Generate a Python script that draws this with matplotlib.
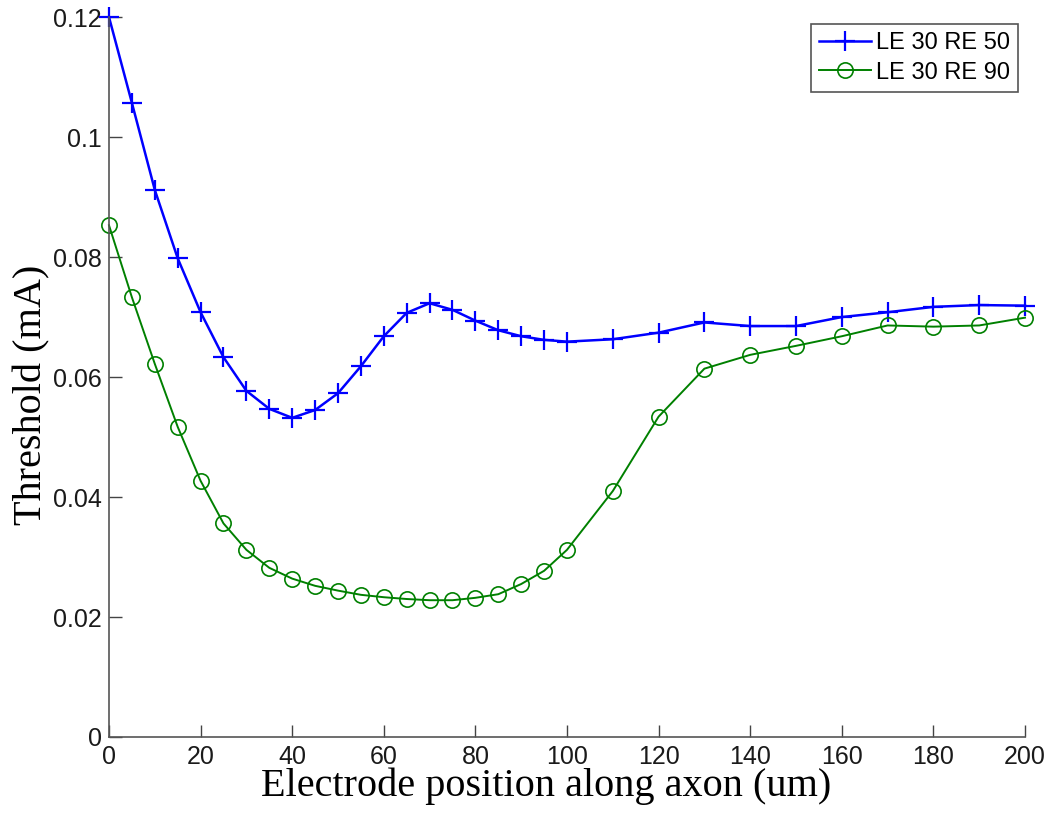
import numpy as np
import matplotlib
matplotlib.use("Agg")
import matplotlib.pyplot as plt

# electrode positions (um)
pos = [0, 5, 10, 15, 20, 25, 30, 35, 40, 45, 50, 55, 60, 65, 70, 75, 80, 85, 90, 95, 100,
       110, 120, 130, 140, 150, 160, 170, 180, 190, 200]

# thresholds (mA)
re50 = [0.1200, 0.1057, 0.0912, 0.0798, 0.0708, 0.0633, 0.0577, 0.0547, 0.0532, 0.0545, 0.0573,
        0.0618, 0.0668, 0.0707, 0.0723, 0.0712, 0.0694, 0.0678, 0.0668, 0.0662, 0.0659,
        0.0663, 0.0674, 0.0691, 0.0685, 0.0685, 0.0700, 0.0708, 0.0717, 0.0720, 0.0719]
re90 = [0.0853, 0.0733, 0.0622, 0.0517, 0.0427, 0.0356, 0.0312, 0.0282, 0.0264, 0.0252, 0.0244,
        0.0237, 0.0233, 0.0230, 0.0228, 0.0228, 0.0232, 0.0238, 0.0255, 0.0277, 0.0312,
        0.0410, 0.0534, 0.0614, 0.0637, 0.0652, 0.0668, 0.0686, 0.0684, 0.0686, 0.0699]

xticks = list(range(0, 201, 20))
yticks = [0, 0.02, 0.04, 0.06, 0.08, 0.1, 0.12]
ytick_labels = ['0', '0.02', '0.04', '0.06', '0.08', '0.1', '0.12']

plt.rcParams['font.family'] = ['Liberation Sans', 'DejaVu Sans']

fig = plt.figure(figsize=(10.5, 8.14), dpi=100)
ax = fig.add_axes([0.1038, 0.0946, 0.8724, 0.8844])

ax.plot(pos, re50, color='#0000ff', lw=1.8, marker='+', ms=14, mew=1.6,
        label='LE 30 RE 50', clip_on=False)
ax.plot(pos, re90, color='#008000', lw=1.4, marker='o', ms=11, mew=1.2,
        mfc='none', label='LE 30 RE 90', clip_on=False)

ax.set_xlim(0, 200)
ax.set_ylim(0, 0.12)
ax.set_xticks(xticks)
ax.set_yticks(yticks)
ax.set_yticklabels(ytick_labels)
ax.tick_params(direction='in', length=9, width=1, colors='#444444',
               labelcolor='#1a1a1a', labelsize=18)
ax.tick_params(axis='x', pad=6)
ax.tick_params(axis='y', pad=5)
for s in ['top', 'right']:
    ax.spines[s].set_visible(False)
for s in ['left', 'bottom']:
    ax.spines[s].set_color('#555555')
    ax.spines[s].set_linewidth(1.2)

ax.set_xlabel('Electrode position along axon (um)', family='Liberation Serif',
              fontsize=29)
ax.xaxis.set_label_coords(0.477, -0.043)
ax.set_ylabel('Threshold (mA)', family='Liberation Serif', fontsize=29)
ax.yaxis.set_label_coords(-0.064, 0.475)

leg = ax.legend(loc='upper right', fontsize=17, fancybox=False, framealpha=1,
                edgecolor='#555555', borderaxespad=0.3, handlelength=2.2,
                handletextpad=0.2, borderpad=0.35, labelspacing=0.3)
leg.get_frame().set_linewidth(1.2)

fig.savefig('out.png', dpi=100)
